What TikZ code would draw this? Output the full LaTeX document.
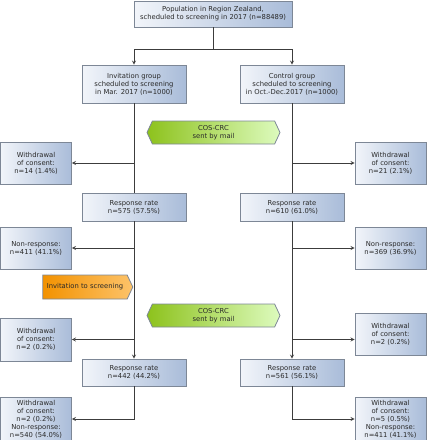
\documentclass[tikz,border=0pt]{standalone}
\usepackage{fontspec}
\setmainfont{DejaVu Sans}
\usetikzlibrary{shapes.symbols}
\usepackage{xcolor}
\definecolor{boxlight}{HTML}{F2F5FA}
\definecolor{boxblue}{HTML}{A9BCD9}
\definecolor{boxline}{HTML}{7D8796}
\definecolor{mailgreen}{HTML}{8DC21C}
\definecolor{maillight}{HTML}{DDFBBE}
\definecolor{invorange}{HTML}{F39200}
\definecolor{invlight}{HTML}{FDC36A}
\definecolor{flowline}{HTML}{3C3C3C}
\definecolor{textgray}{HTML}{2A2A2A}

\begin{document}
\begin{tikzpicture}[x=1pt,y=-1pt,>=stealth,
  txt/.style={font=\fontsize{6.8}{8}\selectfont, text=textgray, align=center, inner sep=0pt},
  box/.style={txt, draw=boxline, line width=0.8pt, left color=boxlight, right color=boxblue},
  sidebox/.style={box, minimum width=71pt, minimum height=42pt},
  groupbox/.style={box, minimum width=104pt, minimum height=38pt},
  respbox/.style={box, minimum width=104pt, minimum height=28pt},
  mail/.style={txt, signal, signal to=east and west, signal pointer angle=130, draw=boxline, line width=0.8pt,
    left color=mailgreen, right color=maillight, minimum width=133pt, minimum height=23pt},
  flow/.style={draw=flowline, line width=0.8pt}]
  \useasboundingbox (0,0) rectangle (427,440);

  \node [box, minimum width=158pt, minimum height=26pt] (pop) at (213,14)
    {Population in Region Zealand,\\scheduled to screening in 2017 (n=88489)};
  \node [groupbox] (inv) at (134,84) {Invitation group\\scheduled to screening\\in Mar. 2017 (n=1000)};
  \node [groupbox] (ctrl) at (292,84) {Control group\\scheduled to screening\\in Oct.-Dec.2017 (n=1000)};
  \node [mail] (mailA) at (213.5,132.5) {COS-CRC\\sent by mail};

  \node [sidebox] (wdL) at (36,163) {Withdrawal\\of consent:\\n=14 (1.4\%)};
  \node [sidebox] (wdR) at (390.5,163) {Withdrawal\\of consent:\\n=21 (2.1\%)};
  \node [respbox] (respL) at (134,207) {Response rate\\n=575 (57.5\%)};
  \node [respbox] (respR) at (292,207) {Response rate\\n=610 (61.0\%)};
  \node [sidebox] (nrL) at (36,248) {Non-response:\\n=411 (41.1\%)};
  \node [sidebox] (nrR) at (390.5,248) {Non-response:\\n=369 (36.9\%)};

  \node [txt, signal, signal to=east, signal pointer angle=130, draw=boxline, line width=0.8pt,
    left color=invorange, right color=invlight, minimum width=90pt, minimum height=24pt] (invite) at (85,287)
    {Invitation to screening};
  \node [mail] (mailB) at (213.5,315.5) {COS-CRC\\sent by mail};

  \node [sidebox, minimum height=43pt] (wdL2) at (36,339.5) {Withdrawal\\of consent:\\n=2 (0.2\%)};
  \node [sidebox] (wdR2) at (390.5,334) {Withdrawal\\of consent:\\n=2 (0.2\%)};
  \node [respbox, minimum height=27pt] (respL2) at (134,372.5) {Response rate\\n=442 (44.2\%)};
  \node [respbox, minimum height=27pt] (respR2) at (292,372.5) {Response rate\\n=561 (56.1\%)};
  \node [sidebox, minimum height=44pt] (finL) at (36,419)
    {Withdrawal\\of consent:\\n=2 (0.2\%)\\Non-response:\\n=540 (54.0\%)};
  \node [sidebox, minimum height=44pt] (finR) at (390.5,419)
    {Withdrawal\\of consent:\\n=5 (0.5\%)\\Non-response:\\n=411 (41.1\%)};

  \coordinate (split) at (213,49);
  \draw [flow] (pop) -- (split);
  \draw [flow,->] (split) -| (inv);
  \draw [flow,->] (split) -| (ctrl);

  \draw [flow] (inv) -- (respL);
  \draw [flow] (ctrl) -- (respR);
  \draw [flow,->] (inv.south |- wdL) -- (wdL);
  \draw [flow,->] (ctrl.south |- wdR) -- (wdR);

  \draw [flow,->] (respL) -- (respL2);
  \draw [flow,->] (respR) -- (respR2);
  \draw [flow,->] (respL.south |- nrL) -- (nrL);
  \draw [flow,->] (respR.south |- nrR) -- (nrR);
  \draw [flow,->] (respL.south |- wdL2) -- (wdL2);
  \draw [flow,->] (respR.south |- wdL2) -- (wdR2.west |- wdL2);

  \draw [flow,->] (respL2) |- (finL);
  \draw [flow,->] (respR2) |- (finR);
\end{tikzpicture}
\end{document}
